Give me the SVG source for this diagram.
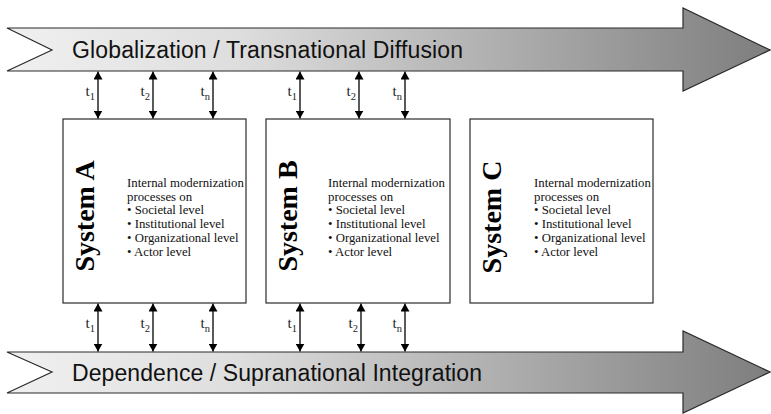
<svg xmlns="http://www.w3.org/2000/svg" width="771" height="414" viewBox="0 0 771 414">
<style>
.band{stroke:#2a2a2a;stroke-width:1.2;fill:url(#g)}
.bandtxt{font-family:"Liberation Sans",Arial,sans-serif;font-size:23px;fill:#111}
.box{fill:#fff;stroke:#2a2a2a;stroke-width:1.2}
.title{font-family:"Liberation Serif","Times New Roman",serif;font-size:28px;font-weight:bold;fill:#000}
.body{font-family:"Liberation Serif","Times New Roman",serif;font-size:12.8px;fill:#111}
.lbl{font-family:"Liberation Serif","Times New Roman",serif;font-size:15px;fill:#222}
.sub{font-size:10.5px}
.conn{stroke:#000;stroke-width:1.3;marker-start:url(#ah);marker-end:url(#ah)}
</style>
<defs>
<linearGradient id="g" x1="7" y1="0" x2="770" y2="0" gradientUnits="userSpaceOnUse">
<stop offset="0" stop-color="#f0f0f0"/>
<stop offset="0.3" stop-color="#dedede"/>
<stop offset="1" stop-color="#7e7e7e"/>
</linearGradient>
<marker id="ah" viewBox="0 0 10 10" refX="10" refY="5" markerWidth="8" markerHeight="9" orient="auto-start-reverse" markerUnits="userSpaceOnUse" preserveAspectRatio="none">
<path d="M0,0 L10,5 L0,10 Z" fill="#000"/>
</marker>
</defs>

<g id="globalization">
<polygon class="band" points="7,28 683,28 683,8 770,50 683,91 683,71 7,71 52,50"/>
<text class="bandtxt" x="72" y="58" textLength="391" lengthAdjust="spacing">Globalization / Transnational Diffusion</text>
</g>

<g id="dependence">
<polygon class="band" points="7,352 683,352 683,331 770,372 683,413 683,393 7,393 52,372"/>
<text class="bandtxt" x="72" y="381" textLength="410" lengthAdjust="spacing">Dependence / Supranational Integration</text>
</g>

<g id="systemA">
<rect class="box" x="63" y="119" width="183" height="184"/>
<text class="title" transform="translate(94,216) rotate(-90)" text-anchor="middle">System A</text>
<text class="body">
<tspan x="127" y="187">Internal modernization</tspan>
<tspan x="127" y="200.7">processes on</tspan>
<tspan x="127" y="214.4">• Societal level</tspan>
<tspan x="127" y="228.1">• Institutional level</tspan>
<tspan x="127" y="241.8">• Organizational level</tspan>
<tspan x="127" y="255.5">• Actor level</tspan>
</text>
</g>

<g id="systemB">
<rect class="box" x="266" y="119" width="184" height="184"/>
<text class="title" transform="translate(297,216) rotate(-90)" text-anchor="middle">System B</text>
<text class="body">
<tspan x="328" y="187">Internal modernization</tspan>
<tspan x="328" y="200.7">processes on</tspan>
<tspan x="328" y="214.4">• Societal level</tspan>
<tspan x="328" y="228.1">• Institutional level</tspan>
<tspan x="328" y="241.8">• Organizational level</tspan>
<tspan x="328" y="255.5">• Actor level</tspan>
</text>
</g>

<g id="systemC">
<rect class="box" x="470" y="119" width="183" height="184"/>
<text class="title" transform="translate(501,217) rotate(-90)" text-anchor="middle">System C</text>
<text class="body">
<tspan x="534" y="187">Internal modernization</tspan>
<tspan x="534" y="200.7">processes on</tspan>
<tspan x="534" y="214.4">• Societal level</tspan>
<tspan x="534" y="228.1">• Institutional level</tspan>
<tspan x="534" y="241.8">• Organizational level</tspan>
<tspan x="534" y="255.5">• Actor level</tspan>
</text>
</g>

<g id="connectors">
<line class="conn" x1="98" y1="71.5" x2="98" y2="118.5"/>
<line class="conn" x1="153" y1="71.5" x2="153" y2="118.5"/>
<line class="conn" x1="213" y1="71.5" x2="213" y2="118.5"/>
<line class="conn" x1="300" y1="71.5" x2="300" y2="118.5"/>
<line class="conn" x1="359" y1="71.5" x2="359" y2="118.5"/>
<line class="conn" x1="405" y1="71.5" x2="405" y2="118.5"/>
<line class="conn" x1="98" y1="303.5" x2="98" y2="351.5"/>
<line class="conn" x1="153" y1="303.5" x2="153" y2="351.5"/>
<line class="conn" x1="213" y1="303.5" x2="213" y2="351.5"/>
<line class="conn" x1="300" y1="303.5" x2="300" y2="351.5"/>
<line class="conn" x1="361" y1="303.5" x2="361" y2="351.5"/>
<line class="conn" x1="405" y1="303.5" x2="405" y2="351.5"/>
<text class="lbl" x="95" y="96" text-anchor="end">t<tspan class="sub" dy="4">1</tspan></text>
<text class="lbl" x="150" y="96" text-anchor="end">t<tspan class="sub" dy="4">2</tspan></text>
<text class="lbl" x="210" y="96" text-anchor="end">t<tspan class="sub" dy="4">n</tspan></text>
<text class="lbl" x="297" y="96" text-anchor="end">t<tspan class="sub" dy="4">1</tspan></text>
<text class="lbl" x="356" y="96" text-anchor="end">t<tspan class="sub" dy="4">2</tspan></text>
<text class="lbl" x="402" y="96" text-anchor="end">t<tspan class="sub" dy="4">n</tspan></text>
<text class="lbl" x="95" y="328" text-anchor="end">t<tspan class="sub" dy="4">1</tspan></text>
<text class="lbl" x="150" y="328" text-anchor="end">t<tspan class="sub" dy="4">2</tspan></text>
<text class="lbl" x="210" y="328" text-anchor="end">t<tspan class="sub" dy="4">n</tspan></text>
<text class="lbl" x="297" y="328" text-anchor="end">t<tspan class="sub" dy="4">1</tspan></text>
<text class="lbl" x="358" y="328" text-anchor="end">t<tspan class="sub" dy="4">2</tspan></text>
<text class="lbl" x="402" y="328" text-anchor="end">t<tspan class="sub" dy="4">n</tspan></text>
</g>
</svg>
